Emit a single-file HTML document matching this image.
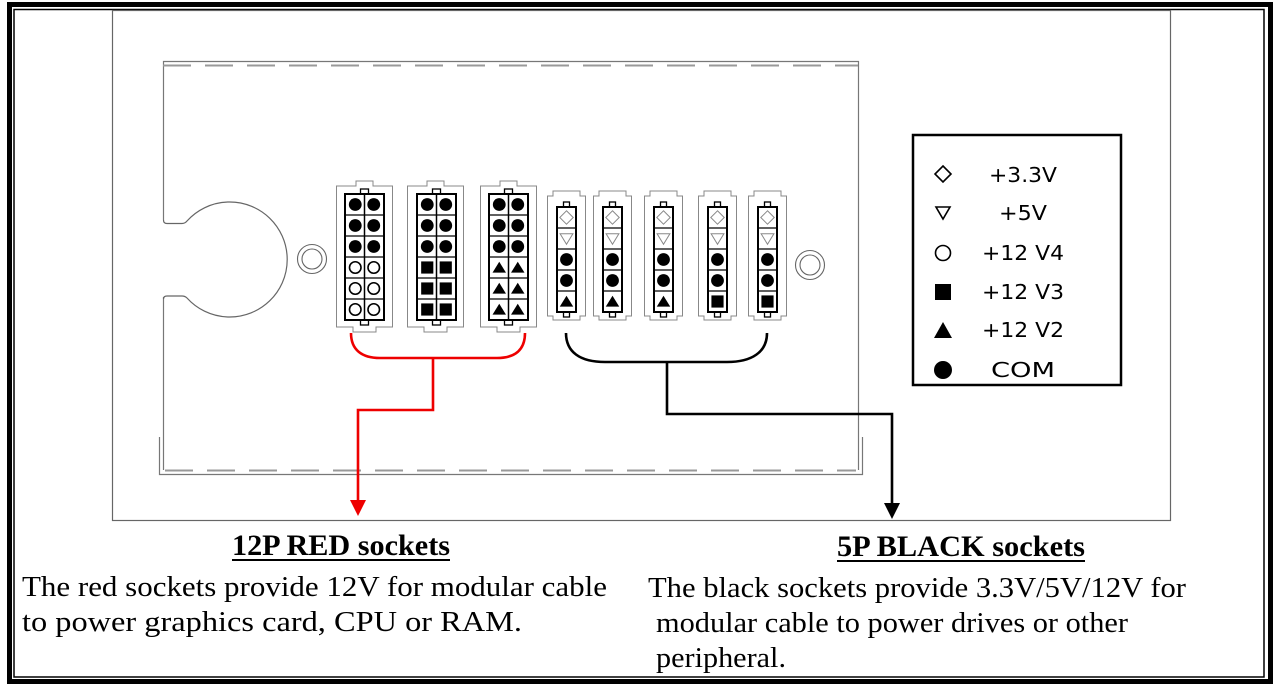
<!DOCTYPE html>
<html><head><meta charset="utf-8"><style>
html,body{margin:0;padding:0;background:#fff;}
svg{display:block;}
</style></head><body>
<svg id="s" width="1276" height="684" viewBox="0 0 1276 684" xmlns="http://www.w3.org/2000/svg">
<rect x="0" y="0" width="1276" height="684" fill="#fff"/>
<rect x="9.5" y="4.5" width="1261" height="677" fill="none" stroke="#000" stroke-width="5"/>
<rect x="14" y="9.5" width="1250" height="667.5" fill="none" stroke="#000" stroke-width="1.5"/>
<rect x="112.5" y="10.5" width="1058" height="510" fill="none" stroke="#666" stroke-width="1.2"/>
<g fill="none" stroke="#777" stroke-width="1.2">
<path d="M163.5 220 V61.5 H858.5 V437"/>
<path d="M163.5 297 V470"/>
<path d="M159.5 437 V474.5 H862.5 V437"/>
<path d="M858.5 437 V470"/>
</g>
<g stroke="#999" stroke-width="2" stroke-dasharray="28 14">
<line x1="163" y1="65.5" x2="858" y2="65.5"/>
<line x1="165" y1="470.5" x2="856" y2="470.5"/>
</g>
<path d="M163.5 220 Q163.5 223.5 167 223.5 L182 223.5 Q185 223.5 187 221 A57.5 57.5 0 1 1 187 298 Q185 296 182 296 L167 296 Q163.5 296 163.5 299" fill="none" stroke="#666" stroke-width="1.2"/>
<circle cx="312" cy="259" r="14.5" fill="none" stroke="#666" stroke-width="1.1"/>
<circle cx="312" cy="259" r="10" fill="none" stroke="#666" stroke-width="1.1"/>
<circle cx="810" cy="265" r="14.5" fill="none" stroke="#666" stroke-width="1.1"/>
<circle cx="810" cy="265" r="10" fill="none" stroke="#666" stroke-width="1.1"/>
<g id="sockets"></g>
<path d="M351 333 C351 350 362 358 380 358 L497 358 C515 358 525 350 525 333" fill="none" stroke="#e00" stroke-width="2.6"/>
<path d="M433 358 V410 H358 V500" fill="none" stroke="#e00" stroke-width="2.6"/>
<polygon points="350,500 366,500 358,516" fill="#e00"/>
<path d="M566 333 C566 352 580 362 605 362 L727 362 C752 362 767 352 767 333" fill="none" stroke="#000" stroke-width="2.6"/>
<path d="M667 362 V414 H892 V503" fill="none" stroke="#000" stroke-width="2.6"/>
<polygon points="884,503 900,503 892,519" fill="#000"/>
<rect x="913" y="135" width="208" height="250" fill="none" stroke="#000" stroke-width="2.5"/>
<g font-family="'DejaVu Sans', 'Liberation Sans', sans-serif" font-size="20" fill="#000" text-anchor="middle">
<text x="1023" y="182" textLength="68" lengthAdjust="spacingAndGlyphs">+3.3V</text>
<text x="1023" y="220" textLength="48" lengthAdjust="spacingAndGlyphs">+5V</text>
<text x="1023" y="260" textLength="82" lengthAdjust="spacingAndGlyphs">+12 V4</text>
<text x="1023" y="299" textLength="82" lengthAdjust="spacingAndGlyphs">+12 V3</text>
<text x="1023" y="337" textLength="82" lengthAdjust="spacingAndGlyphs">+12 V2</text>
<text x="1023" y="377" textLength="64" lengthAdjust="spacingAndGlyphs">COM</text>
</g>
<polygon points="943,166 951,174 943,182 935,174" fill="none" stroke="#000" stroke-width="1.6"/>
<polygon points="936,207 950,207 943,219" fill="none" stroke="#000" stroke-width="1.6"/>
<circle cx="943" cy="253" r="7.5" fill="none" stroke="#000" stroke-width="1.6"/>
<rect x="935" y="284" width="16" height="16" fill="#000"/>
<polygon points="934,338 952,338 943,322" fill="#000"/>
<circle cx="943" cy="370" r="9" fill="#000"/>
<g font-family="'Liberation Serif', serif" fill="#000">
<text x="232" y="555" font-size="30" font-weight="bold" textLength="218" lengthAdjust="spacingAndGlyphs">12P RED sockets</text>
<line x1="232" y1="560" x2="450" y2="560" stroke="#000" stroke-width="2"/>
<text x="837" y="556" font-size="30" font-weight="bold" textLength="248" lengthAdjust="spacingAndGlyphs">5P BLACK sockets</text>
<line x1="837" y1="561" x2="1085" y2="561" stroke="#000" stroke-width="2"/>
<g font-size="28">
<text x="22" y="596" textLength="585" lengthAdjust="spacingAndGlyphs">The red sockets provide 12V for modular cable</text>
<text x="22" y="631" textLength="500" lengthAdjust="spacingAndGlyphs">to power graphics card, CPU or RAM.</text>
<text x="648" y="597" textLength="538" lengthAdjust="spacingAndGlyphs">The black sockets provide 3.3V/5V/12V for</text>
<text x="656" y="632" textLength="472" lengthAdjust="spacingAndGlyphs">modular cable to power drives or other</text>
<text x="656" y="667" textLength="130" lengthAdjust="spacingAndGlyphs">peripheral.</text>
</g>
</g>
</svg>
<script>
(function(){
var g=document.getElementById('sockets');var NS='http://www.w3.org/2000/svg';
function el(t,a){var e=document.createElementNS(NS,t);for(var k in a)e.setAttribute(k,a[k]);g.appendChild(e);return e;}
function sym(type,cx,cy,s){
 if(type=='dot')el('circle',{cx:cx,cy:cy,r:s*0.4,fill:'#000'});
 else if(type=='ring')el('circle',{cx:cx,cy:cy,r:s*0.36,fill:'none',stroke:'#000','stroke-width':1.6});
 else if(type=='sq')el('rect',{x:cx-s*0.38,y:cy-s*0.38,width:s*0.76,height:s*0.76,fill:'#000'});
 else if(type=='tri')el('polygon',{points:(cx-s*0.42)+','+(cy+s*0.32)+' '+(cx+s*0.42)+','+(cy+s*0.32)+' '+cx+','+(cy-s*0.36),fill:'#000'});
 else if(type=='dia')el('polygon',{points:cx+','+(cy-s*0.42)+' '+(cx+s*0.42)+','+cy+' '+cx+','+(cy+s*0.42)+' '+(cx-s*0.42)+','+cy,fill:'none',stroke:'#888','stroke-width':1});
 else if(type=='dtri')el('polygon',{points:(cx-s*0.4)+','+(cy-s*0.3)+' '+(cx+s*0.4)+','+(cy-s*0.3)+' '+cx+','+(cy+s*0.36),fill:'none',stroke:'#888','stroke-width':1});
}
var big=[[336,345,'ring'],[407,417,'sq'],[480,489,'tri']];
big.forEach(function(b){
 var x=b[0],w=57,ix=b[1],iw=39,top=194,bot=320;
 el('path',{d:'M'+(x+0.5)+' '+(bot+7)+' V186 H'+(x+20)+' V181 H'+(x+w-20)+' V186 H'+(x+w-0.5)+' V'+(bot+7)+' H'+(x+w-17)+' V'+(bot+12)+' H'+(x+17)+' V'+(bot+7)+' Z',fill:'#fff',stroke:'#888','stroke-width':1});
 var cx=ix+iw/2;
 el('rect',{x:cx-4,y:top-5,width:8,height:5,fill:'#fff',stroke:'#000','stroke-width':1.3});
 el('rect',{x:cx-4,y:bot,width:8,height:5,fill:'#fff',stroke:'#000','stroke-width':1.3});
 el('rect',{x:ix,y:top,width:iw,height:bot-top,fill:'#fff',stroke:'#000','stroke-width':2});
 el('line',{x1:cx,y1:top,x2:cx,y2:bot,stroke:'#000','stroke-width':1.5});
 var rh=(bot-top)/6;
 for(var r=0;r<6;r++){
  if(r>0)el('line',{x1:ix,y1:top+r*rh,x2:ix+iw,y2:top+r*rh,stroke:'#000','stroke-width':1.3});
  var t=r<3?'dot':b[2];
  sym(t,ix+iw*0.25+0.5,top+r*rh+rh/2,16);
  sym(t,ix+iw*0.75-0.5,top+r*rh+rh/2,16);
 }
});
var sm=[[547,'tri'],[593,'tri'],[644,'tri'],[698,'sq'],[748,'sq']];
sm.forEach(function(b){
 var x=b[0],w=39,ix=x+10,iw=19,top=207,bot=312;
 el('path',{d:'M'+(x+0.5)+' 316 V196 H'+(x+6)+' V191 H'+(x+w-6)+' V196 H'+(x+w-0.5)+' V316 H'+(x+w-6)+' V320 H'+(x+6)+' V316 Z',fill:'#fff',stroke:'#888','stroke-width':1});
 var cx=ix+iw/2;
 el('rect',{x:cx-3,y:top-5,width:6,height:5,fill:'#fff',stroke:'#000','stroke-width':1.3});
 el('rect',{x:cx-3,y:bot,width:6,height:5,fill:'#fff',stroke:'#000','stroke-width':1.3});
 el('rect',{x:ix,y:top,width:iw,height:bot-top,fill:'#fff',stroke:'#000','stroke-width':2});
 var rh=(bot-top)/5;
 var types=['dia','dtri','dot','dot',b[1]];
 for(var r=0;r<5;r++){
  if(r>0)el('line',{x1:ix,y1:top+r*rh,x2:ix+iw,y2:top+r*rh,stroke:'#000','stroke-width':1.3});
  sym(types[r],cx,top+r*rh+rh/2,16);
 }
});
})();
</script>
</body></html>
